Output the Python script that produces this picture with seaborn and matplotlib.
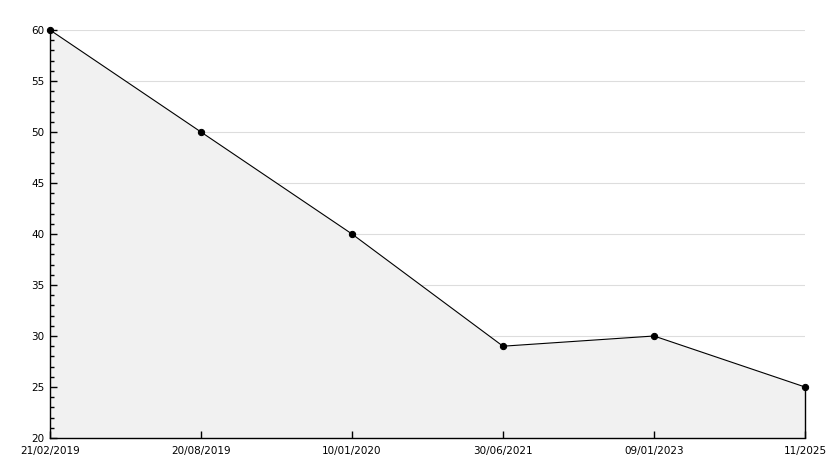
import numpy as np
import pandas as pd
import matplotlib
matplotlib.use("Agg")
import matplotlib.pyplot as plt
import seaborn as sns
from matplotlib.ticker import MultipleLocator

# data
dates = ["21/02/2019", "20/08/2019", "10/01/2020", "30/06/2021", "09/01/2023", "11/2025"]
values = [60, 50, 40, 29, 30, 25]
grid_levels = [25, 30, 35, 40, 45, 50, 55, 60]

df = pd.DataFrame({"pos": np.arange(len(dates)), "value": values})

sns.set_style("white")
plt.rcParams["font.family"] = ["DejaVu Sans"]

fig = plt.figure(figsize=(8.34, 4.68), dpi=100)
ax = fig.add_axes([50 / 834, 1 - 438 / 468, 755 / 834, 408 / 468])

# grid sits under the filled area
for g in grid_levels:
    ax.axhline(g, color="#dddddd", lw=0.8, zorder=0)

ax.fill_between(df["pos"], df["value"], 20, color="#f1f1f1", lw=0, zorder=1)
ax.vlines(df["pos"].iloc[-1], 20, df["value"].iloc[-1], color="black", lw=1,
          zorder=2, clip_on=False)
sns.lineplot(data=df, x="pos", y="value", ax=ax, color="black", lw=0.8,
             marker="o", markersize=4.5, markeredgecolor="black", zorder=3,
             clip_on=False)

ax.set_xlim(0, len(dates) - 1)
ax.set_ylim(20, 60)
ax.set_xticks(df["pos"])
ax.set_xticklabels(dates)
ax.yaxis.set_major_locator(MultipleLocator(5))
ax.yaxis.set_minor_locator(MultipleLocator(1))
ax.grid(False)
ax.set_axisbelow(False)

ax.tick_params(axis="both", which="major", direction="in", length=5, width=1,
               labelsize=7.5, colors="black")
ax.tick_params(axis="y", which="major", left=True, pad=4)
ax.tick_params(axis="x", which="major", bottom=True, pad=5.5)
ax.tick_params(axis="y", which="minor", direction="in", length=3, width=1,
               left=True, colors="black")

for side in ["top", "right"]:
    ax.spines[side].set_visible(False)
for side in ["left", "bottom"]:
    ax.spines[side].set_color("black")
    ax.spines[side].set_linewidth(1)

ax.set_xlabel("")
ax.set_ylabel("")

fig.savefig("out.png", dpi=100)
